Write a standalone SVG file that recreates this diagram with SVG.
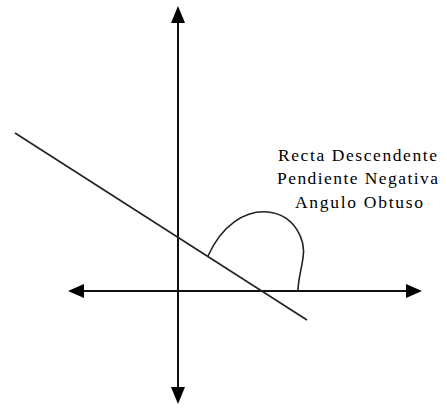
<svg xmlns="http://www.w3.org/2000/svg" width="447" height="408" viewBox="0 0 447 408">
<style>
.axis{stroke:#111;stroke-width:2;fill:none}
.ln{stroke:#222;stroke-width:1.6;fill:none}
.head{fill:#000}
.lbl{font-family:"Liberation Serif","Times New Roman",serif;font-size:17.5px;fill:#000}
</style>
<rect width="447" height="408" fill="#fff"/>
<g id="connectors">
<line id="y-axis" class="axis" x1="178" y1="20" x2="178" y2="390"/>
<polygon class="head" points="178,6 171,23 185,23"/>
<polygon class="head" points="178,404 171,387 185,387"/>
<line id="x-axis" class="axis" x1="82" y1="291" x2="408" y2="291"/>
<polygon class="head" points="68,291 84,284 84,298"/>
<polygon class="head" points="422,291 406,284 406,298"/>
<line id="recta" class="ln" x1="15" y1="133" x2="307" y2="320"/>
<path id="angulo" class="ln" d="M208,256 C222,225 245,210 268,212 C295,215 306,240 303,258 C301,272 298,280 298,291"/>
</g>
<g id="label">
<text class="lbl" x="278" y="161" textLength="159" lengthAdjust="spacing">Recta Descendente</text>
<text class="lbl" x="277" y="184" textLength="161" lengthAdjust="spacing">Pendiente Negativa</text>
<text class="lbl" x="295" y="208" textLength="128" lengthAdjust="spacing">Angulo Obtuso</text>
</g>
</svg>
